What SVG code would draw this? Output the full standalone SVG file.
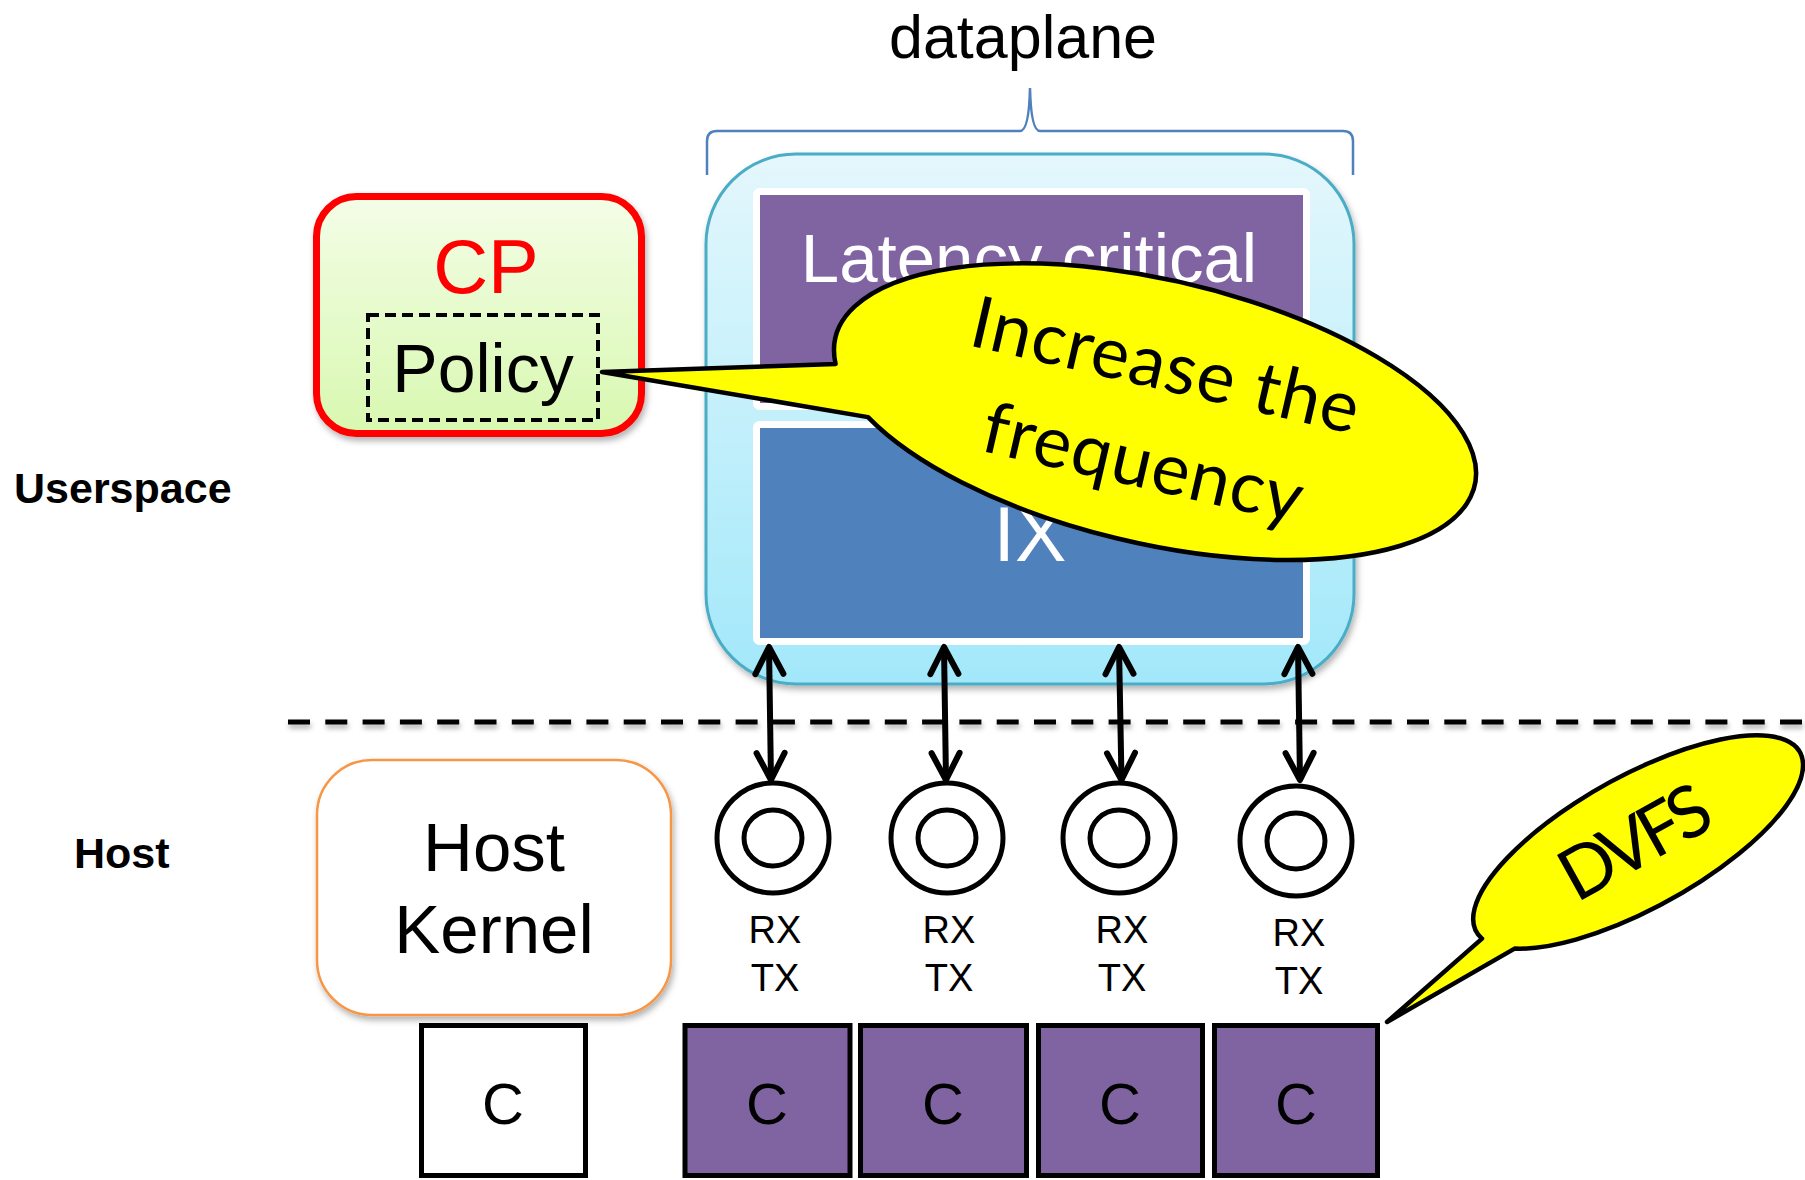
<svg xmlns="http://www.w3.org/2000/svg" width="1805" height="1180" viewBox="0 0 1805 1180">
<style>
  .sans{font-family:"Liberation Sans",Arial,Helvetica,sans-serif}
  .cal{font-family:Lato,"Open Sans",sans-serif}
  .core{fill:#8064a2;stroke:#000;stroke-width:5}
  .ring{fill:#fff;stroke:#000;stroke-width:5}
  .ringi{fill:none;stroke:#000;stroke-width:5}
  .rxtx{font-size:38px;text-anchor:middle;fill:#000}
  .clet{font-size:58px;text-anchor:middle;fill:#000}
  .arrow{fill:none;stroke:#000;stroke-width:6;marker-start:url(#ah);marker-end:url(#ah)}
  .bubble{fill:#ffff00;stroke:#000;stroke-width:4.5;stroke-linejoin:round}
</style>
<defs>
  <linearGradient id="gBlue" x1="0" y1="0" x2="0" y2="1">
    <stop offset="0" stop-color="#e4f7fc"/>
    <stop offset="1" stop-color="#a2e8fa"/>
  </linearGradient>
  <linearGradient id="gGreen" x1="0" y1="0" x2="0" y2="1">
    <stop offset="0" stop-color="#f4fde7"/>
    <stop offset="1" stop-color="#d8f8b0"/>
  </linearGradient>
  <filter id="sh" x="-10%" y="-10%" width="125%" height="130%">
    <feDropShadow dx="2" dy="4" stdDeviation="3" flood-color="#000" flood-opacity="0.3"/>
  </filter>
  <filter id="shLine" filterUnits="userSpaceOnUse" x="270" y="700" width="1560" height="50">
    <feDropShadow dx="1" dy="4" stdDeviation="2.5" flood-color="#000" flood-opacity="0.3"/>
  </filter>
  <marker id="ah" viewBox="-32 -18 36 36" markerWidth="36" markerHeight="36" refX="0" refY="0" orient="auto-start-reverse" markerUnits="userSpaceOnUse">
    <path d="M-27,-14 L0,0 L-27,14" fill="none" stroke="#000" stroke-width="6" stroke-linecap="round" stroke-linejoin="round"/>
  </marker>
</defs>

<rect width="1805" height="1180" fill="#fff"/>

<g id="dataplane-label">
  <text class="sans" x="1023" y="58" font-size="61" text-anchor="middle">dataplane</text>
  <path d="M707 175 L707 141 Q707 131 717 131 L1020 131 Q1029 131 1030 88 Q1031 131 1040 131 L1343 131 Q1353 131 1353 141 L1353 175" fill="none" stroke="#4f81bd" stroke-width="2.5"/>
</g>

<g id="dataplane">
  <rect x="706" y="154" width="648" height="530" rx="90" ry="90" fill="url(#gBlue)" stroke="#4bacc6" stroke-width="3" filter="url(#sh)"/>
</g>

<g id="latency-critical">
  <rect x="756.5" y="191.5" width="550" height="215" rx="3" fill="#8064a2" stroke="#fff" stroke-width="7"/>
  <text class="sans" x="1029" y="282" font-size="69" fill="#fff" text-anchor="middle">Latency critical</text>
</g>

<g id="ix">
  <rect x="756.5" y="424.5" width="550" height="217" rx="3" fill="#4f81bd" stroke="#fff" stroke-width="7"/>
  <text class="sans" x="1030" y="561" font-size="77" fill="#fff" text-anchor="middle">IX</text>
</g>

<g id="cp">
  <rect x="316.5" y="196.5" width="325" height="237" rx="40" ry="40" fill="url(#gGreen)" stroke="#ff0000" stroke-width="7" filter="url(#sh)"/>
  <text class="sans" x="486" y="293" font-size="76" fill="#ff0000" text-anchor="middle">CP</text>
</g>

<g id="policy">
  <rect x="368" y="315" width="230" height="105" fill="none" stroke="#000" stroke-width="4" stroke-dasharray="11 6"/>
  <text class="sans" x="483" y="392" font-size="68" text-anchor="middle">Policy</text>
</g>

<g id="userspace-label">
  <text class="sans" x="14" y="503" font-size="43" font-weight="bold">Userspace</text>
</g>

<g id="host-label">
  <text class="sans" x="74" y="868" font-size="43" font-weight="bold">Host</text>
</g>

<g id="divider">
  <line x1="288" y1="722" x2="1805" y2="722" stroke="#000" stroke-width="5" stroke-dasharray="22 15.3" filter="url(#shLine)"/>
</g>

<g id="host-kernel">
  <rect x="317" y="760" width="354" height="255" rx="55" ry="55" fill="#fff" stroke="#f79646" stroke-width="2.5" filter="url(#sh)"/>
  <text class="sans" font-size="69" text-anchor="middle"><tspan x="494" y="871">Host</tspan><tspan x="494" y="953">Kernel</tspan></text>
</g>

<g id="core-0">
  <rect x="421.5" y="1025.5" width="164" height="150" fill="#fff" stroke="#000" stroke-width="5"/>
  <text class="sans clet" x="503" y="1124">C</text>
</g>
<g id="core-1">
  <rect class="core" x="685" y="1025.5" width="165" height="150"/>
  <text class="sans clet" x="767" y="1124">C</text>
</g>
<g id="core-2">
  <rect class="core" x="860.5" y="1025.5" width="166" height="150"/>
  <text class="sans clet" x="943" y="1124">C</text>
</g>
<g id="core-3">
  <rect class="core" x="1038.5" y="1025.5" width="164" height="150"/>
  <text class="sans clet" x="1120" y="1124">C</text>
</g>
<g id="core-4">
  <rect class="core" x="1214.5" y="1025.5" width="163" height="150"/>
  <text class="sans clet" x="1296" y="1124">C</text>
</g>

<g id="queue-1">
  <ellipse class="ring" cx="773" cy="838" rx="56" ry="55"/>
  <ellipse class="ringi" cx="773" cy="838" rx="29" ry="28"/>
  <text class="sans rxtx"><tspan x="775" y="943">RX</tspan><tspan x="775" y="991">TX</tspan></text>
</g>
<g id="queue-2">
  <ellipse class="ring" cx="947" cy="838" rx="56" ry="55"/>
  <ellipse class="ringi" cx="947" cy="838" rx="29" ry="28"/>
  <text class="sans rxtx"><tspan x="949" y="943">RX</tspan><tspan x="949" y="991">TX</tspan></text>
</g>
<g id="queue-3">
  <ellipse class="ring" cx="1119" cy="838" rx="56" ry="55"/>
  <ellipse class="ringi" cx="1119" cy="838" rx="29" ry="28"/>
  <text class="sans rxtx"><tspan x="1122" y="943">RX</tspan><tspan x="1122" y="991">TX</tspan></text>
</g>
<g id="queue-4">
  <ellipse class="ring" cx="1296" cy="841" rx="56" ry="55"/>
  <ellipse class="ringi" cx="1296" cy="841" rx="29" ry="28"/>
  <text class="sans rxtx"><tspan x="1299" y="946">RX</tspan><tspan x="1299" y="994">TX</tspan></text>
</g>

<g id="connectors">
  <line class="arrow" x1="769" y1="647" x2="771" y2="780"/>
  <line class="arrow" x1="944" y1="647" x2="946" y2="780"/>
  <line class="arrow" x1="1119" y1="647" x2="1121.5" y2="780"/>
  <line class="arrow" x1="1298" y1="647" x2="1300" y2="780"/>
</g>

<g id="callout-increase">
  <path class="bubble" d="M602 372 L835.6 363.9 A328 132 13 1 1 868 417.1 Z"/>
  <g transform="translate(1160 389.5) rotate(13)">
    <text class="cal" x="0" y="0" font-size="72" text-anchor="middle" textLength="396">Increase the</text>
    <text class="cal" x="0" y="100" font-size="72" text-anchor="middle" textLength="326">frequency</text>
  </g>
</g>

<g id="callout-dvfs">
  <path class="bubble" d="M1387 1022 L1482 938.6 A185 66 -29 1 1 1514.6 948.6 Z"/>
  <text class="cal" transform="translate(1647 864) rotate(-29)" x="0" y="0" font-size="72" text-anchor="middle" textLength="162">DVFS</text>
</g>
</svg>
